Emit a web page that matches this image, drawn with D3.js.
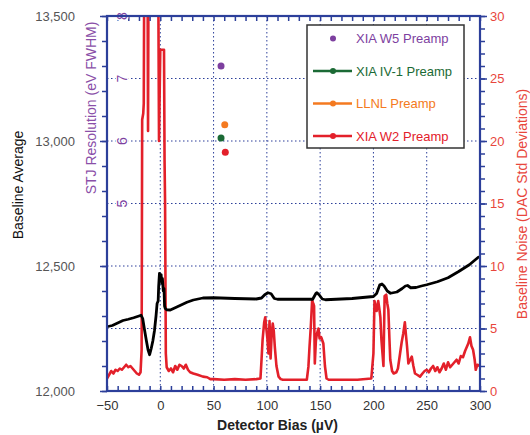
<!DOCTYPE html>
<html>
<head>
<meta charset="utf-8">
<script src="https://d3js.org/d3.v7.min.js"></script>
<style>
	body { margin: 0; background: #fff; }
	text { font-family: "Liberation Sans", Arial, sans-serif; }
</style>
</head>
<body>
<div id="chart"></div>
<script>
// Baseline average (left axis) vs detector bias
var avgBias = [ -50, -45, -40, -35, -30, -25, -20, -18, -16.5, -15, -13, -11.5, -10, -8.5, -7, -5.5, -4, -3, -2, -1.5, -0.8, 0, 0.8, 1.5, 2, 2.8, 3.5, 4, 4.7, 6, 9.4, 15, 20, 25, 31, 40, 50, 70, 90, 95, 98, 101, 104, 107, 110, 143, 146, 147, 149, 152, 155, 180, 200, 203, 206, 208, 210, 213, 216, 222, 227, 230, 232, 235, 240, 245, 250, 260, 270, 280, 290, 298.4, 300 ];
var avgValues = [ 12257, 12262, 12272, 12282, 12287, 12293, 12300, 12303, 12290, 12250, 12200, 12165, 12145, 12170, 12200, 12240, 12300, 12350, 12360, 12420, 12470, 12462, 12465, 12430, 12450, 12400, 12410, 12340, 12330, 12325, 12324, 12335, 12345, 12355, 12364, 12372, 12373, 12370, 12368, 12372, 12385, 12393, 12389, 12370, 12367, 12367, 12390, 12393, 12385, 12368, 12365, 12370, 12378, 12390, 12425, 12428, 12420, 12400, 12391, 12396, 12410, 12420, 12422, 12413, 12414, 12420, 12425, 12437, 12453, 12478, 12505, 12535, 12537 ];

// Baseline noise (right axis), XIA W2 preamp
var noiseBias = [ -50, -48, -46, -44, -42, -40, -38, -36, -34, -32, -30, -28, -26, -24, -22, -20, -18.5, -17.5, -17, -16, -15.5, -15, -12, -11.5, -11, -2, -1.2, 0, 3.5, 4, 4.5, 5.2, 6, 8, 10, 12, 14, 16, 18, 20, 22, 24, 26, 28, 31, 35, 40, 44, 47, 50, 60, 70, 80, 90, 94, 95, 96, 97.5, 98.5, 99.5, 100.5, 101.5, 102.5, 103.5, 104.5, 105.5, 106.5, 107.5, 109, 111, 113, 115, 125, 137.5, 139, 140, 141.2, 142.5, 143.5, 144.3, 145, 146, 147, 148.4, 149.5, 151, 153, 154.5, 156, 158, 170, 185, 198, 200, 201, 202, 203, 204.5, 205.5, 206.5, 207.5, 208.5, 209.4, 210.5, 212, 213, 214, 215, 215.8, 217.5, 219, 221.5, 223, 225, 226.5, 228, 229.5, 230.5, 231.5, 232.8, 234, 236, 237.5, 239, 241, 243.7, 246, 248, 250, 252, 254, 256, 258, 260, 262, 264, 266, 268, 270, 272, 274, 276, 278, 280, 282, 284, 286, 287.5, 289, 290.6, 292, 293.5, 295, 296, 297.5, 300 ];
var noiseValues = [ 1.0, 1.3, 1.6, 1.4, 1.7, 1.6, 1.8, 1.7, 1.9, 2.1, 1.9, 2.0, 1.8, 1.6, 1.4, 1.3, 1.5, 3.3, 21.7, 22.2, 23, 35, 35, 20.8, 35, 35, 20, 27.3, 27.3, 18.5, 15, 3.0, 1.9, 1.6, 1.8, 1.5, 2.0, 1.7, 2.1, 2.0, 1.8, 2.1, 1.7, 1.5, 1.4, 1.3, 1.15, 1.1, 0.95, 0.95, 0.9, 0.95, 0.9, 0.95, 1.0, 2.5, 4.1, 5.5, 5.9, 5.0, 4.2, 3.0, 5.6, 2.6, 4.5, 5.4, 4.8, 3.5, 2.0, 1.15, 0.95, 0.9, 0.9, 0.9, 1.95, 3.5, 5.1, 7.3, 7.0, 6.8, 2.2, 4.0, 4.6, 5.0, 4.2, 4.3, 3.8, 2.0, 1.0, 0.9, 0.9, 0.9, 1.0, 3.0, 7.2, 6.8, 6.4, 7.2, 6.6, 5.9, 4.1, 3.0, 2.0, 7.6, 7.7, 7.0, 6.5, 4.2, 2.5, 1.6, 1.4, 1.5, 1.8, 3.0, 3.9, 4.6, 5.5, 4.5, 3.6, 2.2, 2.4, 2.75, 2.0, 1.4, 1.3, 1.15, 1.4, 1.6, 1.7, 1.5, 1.8, 2.0, 1.6, 1.9, 1.5, 1.8, 2.2, 1.7, 2.3, 1.9, 2.1, 2.3, 2.5, 2.2, 2.8, 2.7, 3.2, 3.5, 3.8, 4.3, 3.6, 3.3, 2.5, 1.7, 2.1, 2.0 ];

// STJ resolution points (inner axis)
var preampNames = [ "XIA W5 Preamp", "XIA IV-1 Preamp", "LLNL Preamp", "XIA W2 Preamp" ];
var preampColors = [ "#7d3f9f", "#1b6a35", "#f47a20", "#e3202a" ];
var preampBias = [ 57, 57, 60.5, 61 ];
var preampRes = [ 7.2, 6.05, 6.26, 5.82 ];
var preampLine = [ false, true, true, true ];

var xTicks = [ -50, 0, 50, 100, 150, 200, 250, 300 ];
var avgTicks = [ 12000, 12500, 13000, 13500 ];
var noiseTicks = [ 0, 5, 10, 15, 20, 25, 30 ];
var resTicks = [ 5, 6, 7, 8 ];

var svg = d3.select("#chart")
	.append("svg")
	.attr("width", 530)
	.attr("height", 435)
;

var margin = {top: 16, right: 50, bottom: 44, left: 107};
var width = 530 - margin.left - margin.right;
var height = 435 - margin.top - margin.bottom;

var axisColor = "#2c3f9a";

var x = d3.scaleLinear().domain([-50, 300]).range([0, width]);
var yAvg = d3.scaleLinear().domain([12000, 13500]).range([height, 0]);
var yNoise = d3.scaleLinear().domain([0, 30]).range([height, 0]);
var yRes = d3.scaleLinear().domain([2, 8]).range([height, 0]);

var g = svg.append("g")
	.attr("transform", "translate(" + margin.left + "," + margin.top + ")");

g.append("clipPath")
	.attr("id", "plotClip")
	.append("rect")
	.attr("width", width)
	.attr("height", height)
;

// grid
g.selectAll(".vgrid").data(d3.range(0, 300, 50))
	.enter().append("line")
	.attr("class", "vgrid")
	.attr("x1", (d) => x(d)).attr("x2", (d) => x(d))
	.attr("y1", 0).attr("y2", height)
	.attr("stroke", axisColor).attr("stroke-width", 1)
	.attr("stroke-dasharray", "1.5,2.5")
;
g.selectAll(".hgrid").data(d3.range(5, 30, 5))
	.enter().append("line")
	.attr("class", "hgrid")
	.attr("x1", 0).attr("x2", width)
	.attr("y1", (d) => yNoise(d)).attr("y2", (d) => yNoise(d))
	.attr("stroke", axisColor).attr("stroke-width", 1)
	.attr("stroke-dasharray", "1.5,2.5")
;

// lines
var avgData = avgBias.map((b, i) => [b, avgValues[i]]);
var noiseData = noiseBias.map((b, i) => [b, noiseValues[i]]);

g.append("path")
	.datum(noiseData)
	.attr("clip-path", "url(#plotClip)")
	.attr("fill", "none")
	.attr("stroke", "#e3202a")
	.attr("stroke-width", 2.6)
	.attr("stroke-linejoin", "round")
	.attr("d", d3.line().x((d) => x(d[0])).y((d) => yNoise(d[1])))
;

g.append("path")
	.datum(avgData)
	.attr("fill", "none")
	.attr("stroke", "#000")
	.attr("stroke-width", 2.8)
	.attr("stroke-linejoin", "round")
	.attr("d", d3.line().x((d) => x(d[0])).y((d) => yAvg(d[1])))
;

g.selectAll(".res").data(preampRes)
	.enter().append("circle")
	.attr("class", "res")
	.attr("cx", (d, i) => x(preampBias[i]))
	.attr("cy", (d) => yRes(d))
	.attr("r", 3.5)
	.attr("fill", (d, i) => preampColors[i])
;

// axes
function styleAxis(sel, color) {
	sel.select(".domain").remove();
	sel.selectAll(".tick line").attr("stroke", axisColor).attr("stroke-width", 1.5);
	sel.selectAll(".tick text")
		.attr("fill", color)
		.style("font-size", "13px")
		.style("font-family", "'Liberation Sans', Arial, sans-serif")
	;
}

// minor ticks
g.append("g")
	.attr("transform", "translate(0," + height + ")")
	.call(d3.axisTop(x).tickValues(d3.range(-50, 301, 10)).tickSize(5).tickFormat(""))
	.call((s) => styleAxis(s, "#333"))
;
g.append("g")
	.call(d3.axisBottom(x).tickValues(d3.range(-50, 301, 10)).tickSize(5).tickFormat(""))
	.call((s) => styleAxis(s, "#333"))
;
g.append("g")
	.call(d3.axisLeft(yAvg).tickValues(d3.range(12000, 13501, 100)).tickSize(5).tickFormat(""))
	.call((s) => styleAxis(s, "#333"))
;
g.append("g")
	.attr("transform", "translate(" + width + ",0)")
	.call(d3.axisRight(yNoise).tickValues(d3.range(0, 31, 1)).tickSize(5).tickFormat(""))
	.call((s) => styleAxis(s, "#333"))
;

// major ticks with labels
g.append("g")
	.attr("transform", "translate(0," + height + ")")
	.call(d3.axisBottom(x).tickValues(xTicks).tickSize(0).tickPadding(10).tickFormat(d3.format("d")))
	.call((s) => styleAxis(s, "#333"))
;
g.append("g")
	.call(d3.axisLeft(yAvg).tickValues(avgTicks).tickSize(7).tickPadding(25).tickFormat(d3.format(",")))
	.call((s) => styleAxis(s, "#555"))
;
g.append("g")
	.attr("transform", "translate(" + width + ",0)")
	.call(d3.axisRight(yNoise).tickValues(noiseTicks).tickSize(7).tickPadding(3))
	.call((s) => styleAxis(s, "#e8463c"))
;

// STJ resolution labels inside the plot
g.selectAll(".resLabel").data(resTicks)
	.enter().append("text")
	.attr("class", "resLabel")
	.attr("transform", (d) => "translate(21," + yRes(d) + ")rotate(-90)")
	.attr("text-anchor", "middle")
	.attr("dy", "-0.05em")
	.attr("fill", "#7d3f9f")
	.attr("stroke", "#fff")
	.attr("stroke-width", 3)
	.attr("paint-order", "stroke")
	.style("font-size", "14px")
	.text((d) => d)
;

// frame
g.append("rect")
	.attr("width", width)
	.attr("height", height)
	.attr("fill", "none")
	.attr("stroke", axisColor)
	.attr("stroke-width", 2.2)
;

// axis titles
svg.append("text")
	.attr("x", margin.left + width / 2 - 16)
	.attr("y", 430)
	.attr("text-anchor", "middle")
	.style("font-size", "14px")
	.style("font-weight", "bold")
	.attr("fill", "#222")
	.text("Detector Bias (\u00b5V)")
;
svg.append("text")
	.attr("transform", "translate(23,185)rotate(-90)")
	.attr("text-anchor", "middle")
	.style("font-size", "14px")
	.attr("fill", "#111")
	.text("Baseline Average")
;
svg.append("text")
	.attr("transform", "translate(96,108)rotate(-90)")
	.attr("text-anchor", "middle")
	.style("font-size", "14px")
	.attr("fill", "#8a4fa8")
	.text("STJ Resolution (eV FWHM)")
;
svg.append("text")
	.attr("transform", "translate(527,204)rotate(-90)")
	.attr("text-anchor", "middle")
	.style("font-size", "14px")
	.attr("fill", "#e8463c")
	.text("Baseline Noise (DAC Std Deviations)")
;

// legend
var legend = svg.append("g").attr("transform", "translate(307,25)");
legend.append("rect")
	.attr("width", 157)
	.attr("height", 123)
	.attr("fill", "#fff")
	.attr("stroke", "#333")
	.attr("stroke-width", 1.5)
;
var item = legend.selectAll(".item").data(preampNames)
	.enter().append("g")
	.attr("class", "item")
	.attr("transform", (d, i) => "translate(0," + (13.5 + i * 32.5) + ")")
;
item.filter((d, i) => preampLine[i]).append("line")
	.attr("x1", 6).attr("x2", 45)
	.attr("stroke", (d, i) => preampColors[preampNames.indexOf(d)])
	.attr("stroke-width", 2.5)
;
item.append("circle")
	.attr("cx", 26)
	.attr("r", 3)
	.attr("fill", (d) => preampColors[preampNames.indexOf(d)])
;
item.append("text")
	.attr("x", 49)
	.attr("dy", "0.35em")
	.style("font-size", "13px")
	.attr("fill", (d) => preampColors[preampNames.indexOf(d)])
	.text((d) => d)
;
</script>
</body>
</html>
